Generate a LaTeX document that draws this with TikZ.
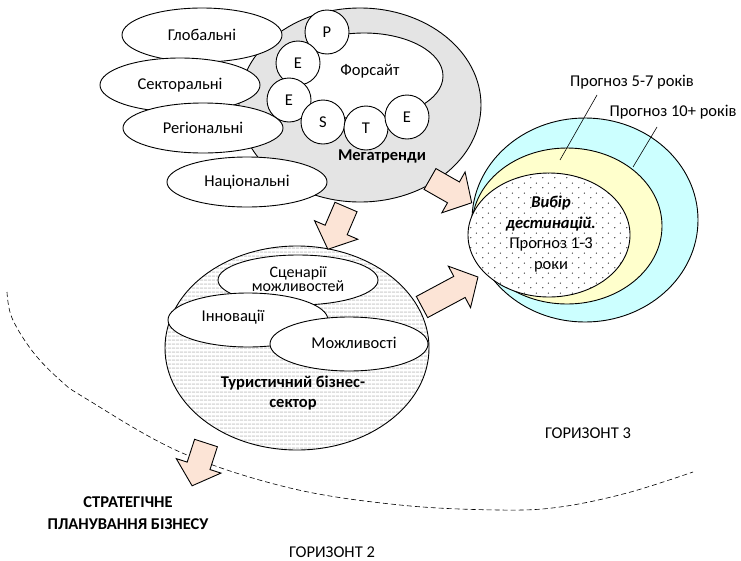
\documentclass[tikz,border=0pt]{standalone}
\usepackage{fontspec}
\setmainfont{Carlito}
\usetikzlibrary{patterns.meta}
\definecolor{peach}{RGB}{252,228,214}
\definecolor{lcyan}{RGB}{204,255,255}
\definecolor{lyellow}{RGB}{255,255,204}
\definecolor{lgray}{RGB}{228,228,228}
\tikzdeclarepattern{name=hstripes,type=uncolored,tile size={(4pt,4pt)},
  bottom left={(0pt,0pt)},top right={(4pt,4pt)},
  code={\fill (0pt,0pt) rectangle (4pt,2pt);}}
\tikzdeclarepattern{name=sparsedots,type=uncolored,tile size={(12pt,10pt)},
  bottom left={(0pt,0pt)},top right={(12pt,10pt)},
  code={\fill (3pt,2.5pt) circle (0.75pt); \fill (9pt,7.5pt) circle (0.75pt);}}
\newcommand\blockarrow[5]{%
  \begin{scope}[shift={(#2,#3)},rotate=#4]
    \draw[arrowbox] (0,-12) -- ({#5-21},-12) -- ({#5-21},-23.5) -- (#5,0)
      -- ({#5-21},23.5) -- ({#5-21},12) -- (0,12) -- cycle;
    \coordinate (#1) at (#5,0);
  \end{scope}}
\begin{document}
\begin{tikzpicture}[x=1pt,y=-1pt,line width=0.9pt,
  every node/.style={font=\fontsize{16.5}{19}\selectfont},
  arrowbox/.style={draw=black,fill=peach,line join=miter},
  small/.style={draw=black,fill=white},
  lbl/.style={inner sep=0pt},
  boldlbl/.style={inner sep=0pt,font=\fontsize{16.5}{19}\selectfont\bfseries}]
\useasboundingbox (0,0) rectangle (741,560);
% horizon line
\draw[line width=0.6pt,dash pattern=on 5pt off 3pt] plot[smooth,tension=0.6] coordinates
  {(7,292) (12,318) (33,352) (60,380) (85,398) (180,452) (290,488) (400,505) (500,510) (560,507) (627,493) (693,472)};
% megatrends
\fill[lgray,draw=black] (360,105) ellipse [x radius=121, y radius=97];
\node[boldlbl] (mega) at (382,156) {Мегатренди};
\draw[small] (364,76) ellipse [x radius=79, y radius=43];
\node[lbl] (fors) at (370,71) {Форсайт};
\foreach \n/\x/\y/\t in {p/327/32/P, e1/298/63/E, e2/289/100/E, s/323/122/S, t/366/128/T, e3/407/117/E}{
  \draw[small] (\x,\y) circle (22);
  \node[lbl] (c\n) at (\x,\y) {\t};
}
% left ellipses
\draw[small] (202,35) ellipse [x radius=80, y radius=27];
\node[lbl] (glob) at (202,35) {Глобальні};
\draw[small] (180,85) ellipse [x radius=80, y radius=27];
\node[lbl] (sekt) at (180,85) {Секторальні};
\draw[small] (203,128) ellipse [x radius=80, y radius=25];
\node[lbl] (reg) at (203,128) {Регіональні};
\draw[small] (247,182) ellipse [x radius=80, y radius=25];
\node[lbl] (nat) at (247,182) {Національні};
% tourism sector
\fill[white] (297,348) ellipse [x radius=132, y radius=102];
\fill[pattern={hstripes},pattern color=black!13] (297,348) ellipse [x radius=132, y radius=102];
\draw (297,348) ellipse [x radius=132, y radius=102];
\draw[small] (298,280) ellipse [x radius=80, y radius=25];
\node[lbl,align=center,font=\fontsize{16}{12.5}\selectfont] (scen) at (298,279) {Сценарії\\можливостей};
\draw[small] (248,320) ellipse [x radius=80, y radius=27];
\node[lbl] (inn) at (233,317) {Інновації};
\draw[small] (349,344) ellipse [x radius=79, y radius=27];
\node[lbl] (mozh) at (354,343) {Можливості};
\node[boldlbl,align=center,font=\fontsize{16.5}{20}\selectfont\bfseries] (tour) at (293,393) {Туристичний бізнес-\\сектор};
% destinations
\draw[fill=lcyan] (585,220) ellipse [x radius=113, y radius=102];
\draw[fill=lyellow] (567,226) ellipse [x radius=95, y radius=78];
\fill[white] (549,235) ellipse [x radius=81, y radius=62];
\fill[pattern={sparsedots},pattern color=black!85] (549,235) ellipse [x radius=81, y radius=62];
\draw (549,235) ellipse [x radius=81, y radius=62];
\node[lbl,align=center,font=\fontsize{16.5}{20.5}\selectfont] (dest) at (551,234)
  {\textbf{\textit{Вибір}}\\\textbf{\textit{дестинацій.}}\\Прогноз 1-3\\роки};
\node[lbl] (p57) at (632,82) {Прогноз 5-7 років};
\node[lbl] (p10) at (673,112) {Прогноз 10+ років};
\coordinate (l1a) at (597,95); \coordinate (l1b) at (560,160);
\coordinate (l2a) at (657,127); \coordinate (l2b) at (633,167);
\draw[line width=0.6pt] (l1a) -- (l1b);
\draw[line width=0.6pt] (l2a) -- (l2b);
% arrows
\blockarrow{a1}{346}{207}{246.8}{46}
\blockarrow{a2}{430}{179}{-29.7}{48}
\blockarrow{a3}{422}{307}{28.2}{63.5}
\blockarrow{a4}{206}{443}{252}{45}
% bottom labels
\node[boldlbl,align=center,font=\fontsize{16.5}{22}\selectfont\bfseries] (strat) at (128,513) {СТРАТЕГІЧНЕ\\ПЛАНУВАННЯ БІЗНЕСУ};
\node[lbl] (h2) at (332,552) {ГОРИЗОНТ 2};
\node[lbl] (h3) at (588,433) {ГОРИЗОНТ 3};
\end{tikzpicture}
\end{document}
